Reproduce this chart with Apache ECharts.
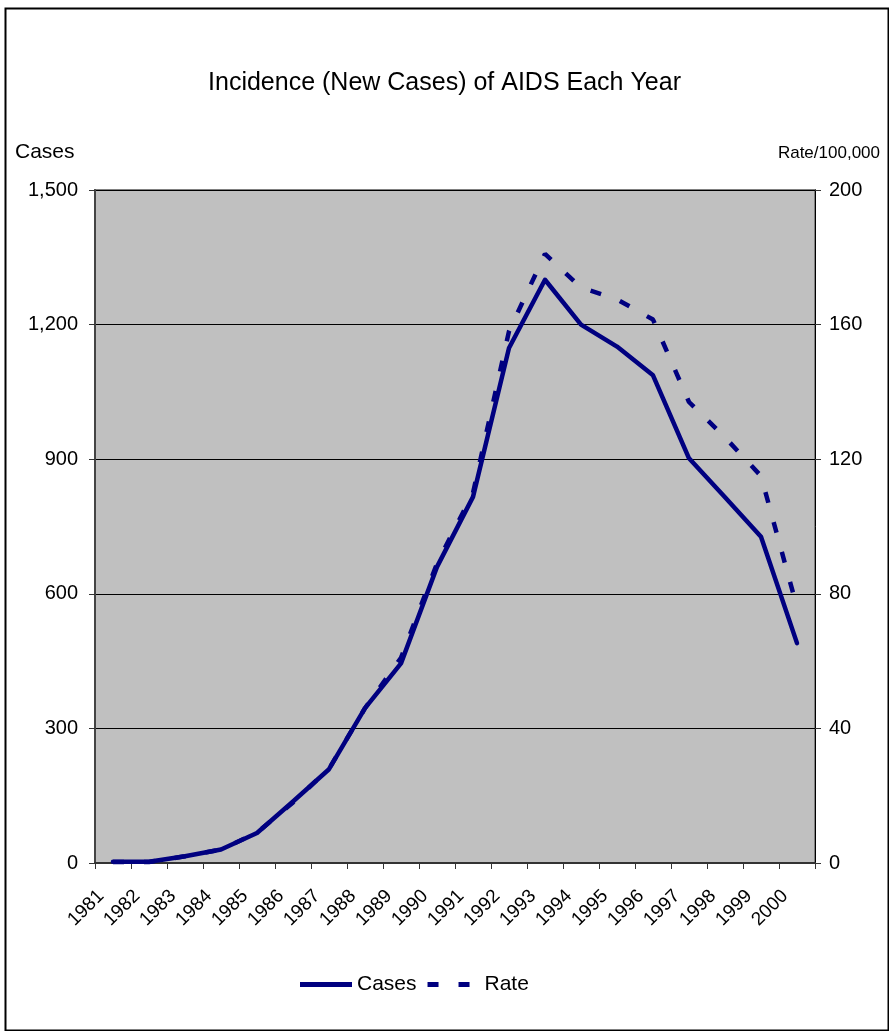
<!DOCTYPE html>
<html>
<head>
<meta charset="utf-8">
<script src="https://cdn.jsdelivr.net/npm/echarts@6/dist/echarts.min.js"></script>
<style>
  html, body { margin: 0; padding: 0; background: #ffffff; }
  #chart { width: 889px; height: 1031px; }
</style>
</head>
<body>
<div id="chart"></div>
<script>
// Years on the category axis
var years = ['1981','1982','1983','1984','1985','1986','1987','1988','1989','1990',
             '1991','1992','1993','1994','1995','1996','1997','1998','1999','2000'];

// New AIDS cases per year (left axis)
var cases = [3, 3, 15, 30, 67, 137, 209, 345, 445, 660,
             816, 1148, 1300, 1200, 1151, 1087, 902, 815, 727, 490];

// Incidence rate per 100,000 (right axis)
var rate = [0.3, 0.3, 2, 4, 9, 18, 28, 46, 61, 89,
            110, 158, 181, 171, 167.5, 161.5, 137, 126.5, 115, 76];

// Axis ranges and steps
var casesAxis = { min: 0, max: 1500, interval: 300 };
var rateAxis = { min: 0, max: 200, interval: 40 };

var FONT = 'Liberation Sans, Arial, sans-serif';
var NAVY = '#000080';

// Legend keys: a solid bar and a pair of dashes (the trailing move keeps both keys the same width)
var solidKey = 'path://M0,0H52V5H0Z';
var dashKey = 'path://M0,0H11V5H0Z M31,0H42V5H31Z M52,5L52,5';

var chart = echarts.init(document.getElementById('chart'), null, { renderer: 'canvas' });

chart.setOption({
  backgroundColor: '#ffffff',
  animation: false,
  title: {
    text: 'Incidence (New Cases) of AIDS Each Year',
    left: 'center',
    top: 66,
    textStyle: { fontFamily: FONT, fontSize: 25, fontWeight: 'normal', color: '#000' }
  },
  graphic: [
    { type: 'rect', left: 3, top: 6, shape: { width: 883, height: 1022 },
      style: { fill: 'none', stroke: '#000', lineWidth: 2 }, silent: true },
    { type: 'text', left: 15, top: 142,
      style: { text: 'Cases', font: '21px ' + FONT, fill: '#000' } },
    { type: 'text', right: 9, top: 145,
      style: { text: 'Rate/100,000', font: '17px ' + FONT, fill: '#000' } }
  ],
  legend: {
    left: 295,
    top: 969,
    itemWidth: 52,
    itemHeight: 5,
    itemGap: 11,
    textStyle: { fontFamily: FONT, fontSize: 21, color: '#000' },
    data: [
      { name: 'Cases', icon: solidKey },
      { name: 'Rate', icon: dashKey }
    ]
  },
  grid: {
    left: 95, right: 74, top: 190, bottom: 168,
    show: true,
    backgroundColor: '#C0C0C0',
    borderColor: '#808080',
    borderWidth: 2
  },
  xAxis: {
    type: 'category',
    data: years,
    boundaryGap: true,
    axisLine: { lineStyle: { color: '#333', width: 2 } },
    axisTick: { show: true, length: 6, alignWithLabel: false, lineStyle: { color: '#333' } },
    axisLabel: {
      rotate: 45, interval: 0, margin: 18, padding: [0, 17, 0, 0],
      fontFamily: FONT, fontSize: 19, color: '#000'
    },
    splitLine: { show: false }
  },
  yAxis: [
    {
      type: 'value',
      min: casesAxis.min, max: casesAxis.max, interval: casesAxis.interval,
      position: 'left',
      axisLine: { show: true, lineStyle: { color: '#444', width: 2 } },
      axisTick: { show: true, length: 6, lineStyle: { color: '#333' } },
      axisLabel: {
        margin: 17, fontFamily: FONT, fontSize: 20, color: '#000',
        formatter: function (v) { return v.toLocaleString('en-US'); }
      },
      splitLine: { show: true, lineStyle: { color: '#000', width: 1 } }
    },
    {
      type: 'value',
      min: rateAxis.min, max: rateAxis.max, interval: rateAxis.interval,
      position: 'right',
      axisLine: { show: true, lineStyle: { color: '#000', width: 1 } },
      axisTick: { show: true, length: 6, lineStyle: { color: '#333' } },
      axisLabel: { margin: 14, fontFamily: FONT, fontSize: 20, color: '#000' },
      splitLine: { show: false }
    }
  ],
  series: [
    {
      name: 'Cases',
      type: 'line',
      yAxisIndex: 0,
      data: cases,
      symbol: 'none',
      lineStyle: { color: NAVY, width: 4.5, cap: 'round', join: 'round' },
      itemStyle: { color: NAVY },
      z: 3
    },
    {
      name: 'Rate',
      type: 'line',
      yAxisIndex: 1,
      data: rate,
      symbol: 'none',
      lineStyle: { color: NAVY, width: 4.5, type: [11, 20], cap: 'butt' },
      itemStyle: { color: NAVY },
      z: 2
    }
  ]
});
</script>
</body>
</html>
